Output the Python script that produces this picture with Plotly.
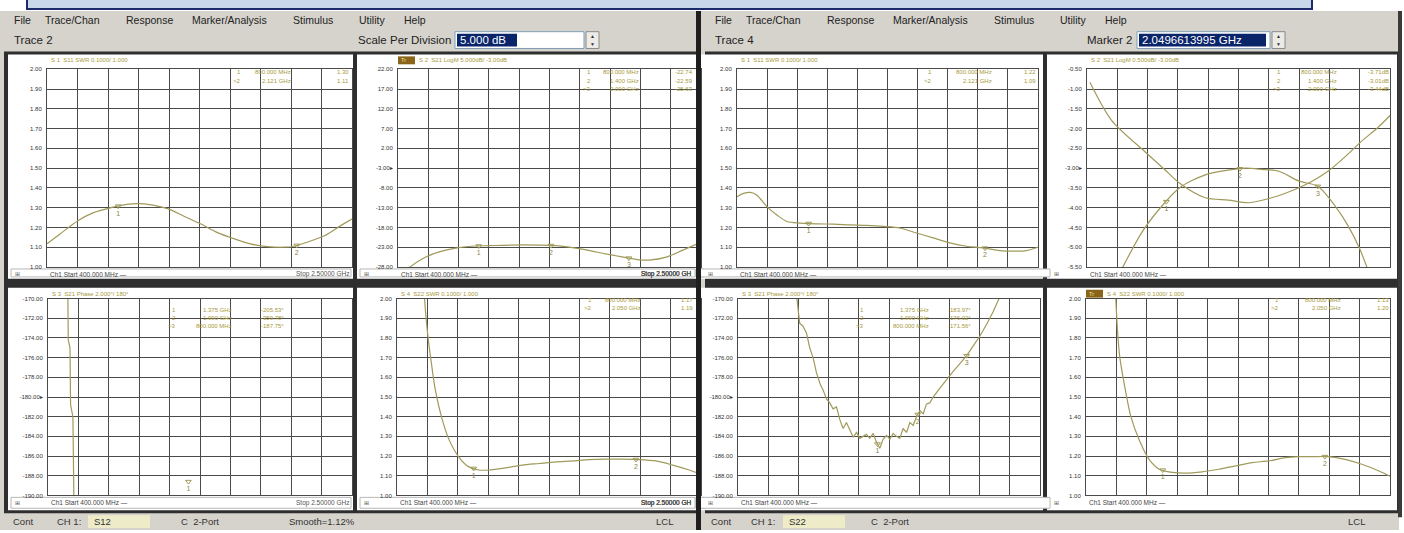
import numpy as np
import plotly.graph_objects as go

W, H = 1404, 533

# ---------------- data (GHz / trace units) ----------------
# Left analyzer window
f_l_s11 = [0.40, 0.49, 0.61, 0.72, 0.84, 0.95, 1.04, 1.13, 1.23, 1.34, 1.46, 1.57, 1.69, 1.80, 1.92, 2.03, 2.10, 2.19, 2.31, 2.42, 2.50]
swr_l_s11 = [1.117, 1.167, 1.233, 1.275, 1.300, 1.317, 1.320, 1.313, 1.295, 1.258, 1.217, 1.175, 1.142, 1.117, 1.103, 1.100, 1.105, 1.125, 1.158, 1.208, 1.242]

f_l_s21 = [0.40, 0.47, 0.57, 0.68, 0.80, 0.91, 1.03, 1.26, 1.49, 1.61, 1.72, 1.84, 1.96, 2.07, 2.14, 2.26, 2.37, 2.50]
db_l_s21 = [-31.0, -28.4, -25.9, -24.25, -23.25, -22.75, -22.6, -22.4, -22.6, -23.1, -23.8, -24.7, -25.5, -26.2, -26.25, -25.5, -23.8, -21.75]

f_l_ph = [0.536, 0.540, 0.552, 0.556, 0.572, 0.580]
ph_l = [-168.0, -174.2, -175.0, -180.8, -182.0, -192.0]

f_l_s22 = [0.585, 0.601, 0.615, 0.638, 0.665, 0.712, 0.758, 0.827, 0.896, 0.965, 1.035, 1.15, 1.265, 1.381, 1.496, 1.612, 1.727, 1.842, 1.958, 2.073, 2.188, 2.304, 2.419, 2.5]
swr_l_s22 = [2.05, 1.90, 1.80, 1.67, 1.535, 1.386, 1.286, 1.195, 1.145, 1.129, 1.129, 1.14, 1.154, 1.162, 1.17, 1.175, 1.182, 1.184, 1.184, 1.182, 1.175, 1.154, 1.129, 1.107]

# Right analyzer window
f_r_s11 = [0.40, 0.446, 0.493, 0.539, 0.609, 0.678, 0.748, 0.841, 0.957, 1.073, 1.189, 1.305, 1.421, 1.537, 1.653, 1.769, 1.885, 2.001, 2.117, 2.233, 2.349, 2.419, 2.50]
swr_r_s11 = [1.355, 1.372, 1.377, 1.363, 1.305, 1.263, 1.23, 1.222, 1.218, 1.217, 1.213, 1.21, 1.205, 1.197, 1.172, 1.147, 1.122, 1.105, 1.097, 1.083, 1.08, 1.083, 1.10]

f_r_a = [0.42, 0.57, 0.80, 0.94, 1.04, 1.22, 1.38, 1.52, 1.68, 1.84, 1.96, 2.07, 2.19, 2.30, 2.42, 2.50]
db_r_a = [-0.83, -1.79, -2.58, -3.04, -3.375, -3.75, -3.81, -3.875, -3.75, -3.54, -3.33, -3.08, -2.71, -2.33, -1.96, -1.67]
f_r_b = [0.62, 0.78, 0.90, 1.04, 1.22, 1.40, 1.50, 1.61, 1.73, 1.87, 2.00, 2.12, 2.21, 2.29, 2.36]
db_r_b = [-5.70, -4.625, -4.04, -3.5, -3.17, -3.04, -3.0, -3.03, -3.08, -3.33, -3.46, -3.96, -4.46, -5.04, -5.70]

f_r_ph = [0.800, 0.806, 0.829, 0.852, 0.876, 0.899, 0.922, 0.945, 0.969, 0.992, 1.015, 1.038, 1.061, 1.085, 1.108,
          1.131, 1.154, 1.178, 1.201, 1.224, 1.247, 1.270, 1.293, 1.316, 1.340, 1.363, 1.386, 1.409, 1.433, 1.456,
          1.479, 1.502, 1.525, 1.548, 1.572, 1.595, 1.618, 1.641, 1.665, 1.688, 1.711, 1.734, 1.757, 1.804, 1.850,
          1.896, 1.943, 1.990, 2.036, 2.082, 2.129, 2.175, 2.221, 2.240]
ph_r = [-168.0, -169.5, -172.5, -172.8, -173.5, -175.0, -176.0, -177.5, -178.6, -179.3, -180.2, -180.6, -181.2, -181.0, -182.3,
        -183.2, -182.6, -183.4, -184.1, -183.6, -184.2, -184.0, -183.8, -184.2, -183.7, -184.6, -185.2, -184.3, -183.9, -184.3,
        -183.7, -184.0, -184.2, -183.2, -183.6, -182.6, -182.9, -182.0, -181.4, -181.7, -180.7, -180.6, -180.0, -179.1, -178.2,
        -177.4, -176.6, -175.8, -174.8, -173.8, -172.6, -171.3, -169.8, -169.0]

f_r_s22 = [0.60, 0.618, 0.634, 0.664, 0.71, 0.767, 0.836, 0.905, 0.997, 1.089, 1.203, 1.318, 1.433, 1.548, 1.662, 1.777, 1.869, 1.961, 2.075, 2.19, 2.305, 2.42, 2.5]
swr_r_s22 = [2.10, 1.833, 1.70, 1.567, 1.40, 1.283, 1.183, 1.133, 1.117, 1.113, 1.12, 1.133, 1.15, 1.167, 1.175, 1.192, 1.197, 1.197, 1.197, 1.183, 1.158, 1.125, 1.097]

# marker frequencies (GHz) per panel
mk_p1 = [0.89, 2.12]
mk_p2 = [0.96, 1.46, 2.00]
mk_p3 = [1.37]
mk_p3_val = [-188.6]   # marker shown pinned at the bottom edge of the phase grid
mk_p4 = [0.93, 2.05]
mk_p5 = [0.90, 2.13]
mk_p6 = [0.95, 1.46, 2.00]
mk_p7 = [1.37, 1.65, 1.99]
mk_p8 = [0.93, 2.05]

# y-axis labels
swr_ticks = [1.0, 1.1, 1.2, 1.3, 1.4, 1.5, 1.6, 1.7, 1.8, 1.9, 2.0]
s21_left_ticks = [-28, -23, -18, -13, -8, -3, 2, 7, 12, 17, 22]
phase_ticks = [-190, -188, -186, -184, -182, -180, -178, -176, -174, -172, -170]
s21_right_ticks = [-5.5, -5.0, -4.5, -4.0, -3.5, -3.0, -2.5, -2.0, -1.5, -1.0, -0.5]

menu_items = ["File", "Trace/Chan", "Response", "Marker/Analysis", "Stimulus", "Utility", "Help"]

# ---------------- helpers ----------------
TRACE = "#a09a5a"
GRID = "#4a4a4a"
OLIVE = "#a8993c"
GRAYBG = "#d6d3cc"
DARK = "#2e2e2e"
FONT = "Liberation Sans"


def X(px):
    return px / W


def Y(py):
    return 1 - py / H


shapes = []
annots = []


def R(x0, y0, x1, y1, fill, line=None, lw=1, layer="below"):
    shapes.append(dict(type="rect", xref="paper", yref="paper", x0=X(x0), x1=X(x1), y0=Y(y1), y1=Y(y0),
                       fillcolor=fill, line=dict(color=line or "rgba(0,0,0,0)", width=lw if line else 0), layer=layer))


def T(x, y, text, size=10, color="#222", anchor="left", family=FONT):
    annots.append(dict(xref="paper", yref="paper", x=X(x), y=Y(y), text=text, showarrow=False,
                       xanchor=anchor, yanchor="middle", font=dict(size=size, color=color, family=family),
                       borderpad=0))


# ---------------- window chrome ----------------
R(27, -4, 1312, 6, "#c9d7ea", "#1b2a6b", 2)
for wx0, wx1 in [(0, 697), (701, 1399)]:
    R(wx0, 8, wx1, 533, GRAYBG)
    R(wx0 + 4, 49, wx1, 516, DARK)
R(696, 8, 701, 533, "#1e1e1e", layer="above")
R(1398, 8, 1402, 520, "#3a3a3a")

# menu bars
menu_x = [13, 44, 125, 191, 292, 358, 403]
for off in (0, 701):
    for mx, m in zip(menu_x, menu_items):
        T(off + mx, 17, m, 10.5)

T(13, 37, "Trace 2", 11.5)
T(452, 37, "Scale Per Division", 11.5, anchor="right")
R(455, 29, 584, 46, "#ffffff", "#7f9db9")
R(457, 31, 517, 44, "#0a246a")
T(459, 37.5, "5.000 dB", 11.5, "#ffffff")
R(586, 29, 599, 46, "#ecebe6", "#8a8a8a")
T(592.5, 33.5, "▲", 5, "#333", "center")
T(592.5, 41.5, "▼", 5, "#333", "center")

T(714, 37, "Trace 4", 11.5)
T(1133, 37, "Marker 2", 11.5, anchor="right")
R(1137, 29, 1270, 46, "#ffffff", "#7f9db9")
R(1139, 31, 1266, 44, "#0a246a")
T(1141, 37.5, "2.0496613995 GHz", 11.5, "#ffffff")
R(1272, 29, 1285, 46, "#ecebe6", "#8a8a8a")
T(1278.5, 33.5, "▲", 5, "#333", "center")
T(1278.5, 41.5, "▼", 5, "#333", "center")

# status bars
T(12, 524.5, "Cont", 9.5, "#333")
T(56, 524.5, "CH 1:", 9.5, "#333")
R(88, 518, 150, 531, "#eeebc8")
T(93, 524.5, "S12", 9.5, "#333")
T(180, 524.5, "C  2-Port", 9.5, "#333")
T(288, 524.5, "Smooth=1.12%", 9.5, "#333")
T(655, 524.5, "LCL", 9.5, "#333")
T(710, 524.5, "Cont", 9.5, "#333")
T(750, 524.5, "CH 1:", 9.5, "#333")
R(783, 518, 845, 531, "#eeebc8")
T(788, 524.5, "S22", 9.5, "#333")
T(870, 524.5, "C  2-Port", 9.5, "#333")
T(1347, 524.5, "LCL", 9.5, "#333")

# ---------------- panels ----------------
panels = [
    dict(white=(8, 52, 353, 279), grid=(47, 67, 352, 267), rng=(1.0, 2.0), ticks=swr_ticks, ref=None,
         title="S 1  S11 SWR 0.1000/ 1.000", act=False,
         series=[(f_l_s11, swr_l_s11)], mk=mk_p1,
         table=[("1", "800.000 MHz", "1.30"), (">2", "2.121 GHz", "1.11")], tx=(242, 292, 350), ty=70),
    dict(white=(357, 52, 697, 279), grid=(398, 67, 701, 267), rng=(-28, 22), ticks=s21_left_ticks, ref=-3,
         title="S 2  S21 LogM 5.000dB/ -3.00dB", act=True,
         series=[(f_l_s21, db_l_s21)], mk=mk_p2,
         table=[("1", "800.000 MHz", "-22.74"), ("2", "1.400 GHz", "-22.59"), (">3", "2.000 GHz", "-25.63")],
         tx=(592, 640, 694), ty=70),
    dict(white=(8, 288, 353, 513), grid=(48, 299, 352, 498), rng=(-190, -170), ticks=phase_ticks, ref=-180,
         title="S 3  S21 Phase 2.000°/ 180°", act=False,
         series=[(f_l_ph, ph_l)], mk=mk_p3, mk_y=mk_p3_val,
         table=[("1", "1.375 GHz", "-205.53°"), ("2", "1.990 GHz", "-359.78°"), (">3", "800.000 MHz", "-187.75°")],
         tx=(177, 233, 285), ty=310),
    dict(white=(357, 288, 697, 513), grid=(397, 299, 701, 498), rng=(1.0, 2.0), ticks=swr_ticks, ref=None,
         title="S 4  S22 SWR 0.1000/ 1.000", act=False,
         series=[(f_l_s22, swr_l_s22)], mk=mk_p4,
         table=[("1", "800.000 MHz", "1.17"), (">2", "2.050 GHz", "1.19")], tx=(593, 642, 694), ty=300),
    dict(white=(701, 52, 1043, 279), grid=(737, 67, 1038, 267), rng=(1.0, 2.0), ticks=swr_ticks, ref=None,
         title="S 1  S11 SWR 0.1000/ 1.000", act=False,
         series=[(f_r_s11, swr_r_s11)], mk=mk_p5,
         table=[("1", "800.000 MHz", "1.22"), (">2", "2.121 GHz", "1.09")], tx=(933, 993, 1037), ty=70),
    dict(white=(1047, 52, 1397, 279), grid=(1087, 67, 1390, 267), rng=(-5.5, -0.5), ticks=s21_right_ticks, ref=-3.0,
         title="S 2  S21 LogM 0.500dB/ -3.00dB", act=False,
         series=[(f_r_a, db_r_a), (f_r_b, db_r_b)], mk=mk_p6, mk_series=1,
         table=[("1", "800.000 MHz", "-3.71dB"), ("2", "1.400 GHz", "-3.01dB"), (">3", "2.000 GHz", "-3.44dB")],
         tx=(1282, 1338, 1390), ty=70),
    dict(white=(701, 288, 1043, 513), grid=(738, 299, 1040, 498), rng=(-190, -170), ticks=phase_ticks, ref=-180,
         title="S 3  S21 Phase 2.000°/ 180°", act=False,
         series=[(f_r_ph, ph_r)], mk=mk_p7,
         table=[("1", "1.375 GHz", "-183.97°"), ("2", "1.990 GHz", "-176.02°"), (">3", "800.000 MHz", "-171.56°")],
         tx=(865, 930, 972), ty=310),
    dict(white=(1047, 288, 1397, 513), grid=(1086, 299, 1390, 498), rng=(1.0, 2.0), ticks=swr_ticks, ref=None,
         title="S 4  S22 SWR 0.1000/ 1.000", act=True,
         series=[(f_r_s22, swr_r_s22)], mk=mk_p8,
         table=[("1", "800.000 MHz", "1.13"), (">2", "2.050 GHz", "1.20")], tx=(1280, 1342, 1390), ty=300),
]

fig = go.Figure()
layout = {}
for i, p in enumerate(panels, start=1):
    wx0, wy0, wx1, wy1 = p["white"]
    gx0, gy0, gx1, gy1 = p["grid"]
    R(wx0, wy0, wx1, wy1, "#ffffff")
    # bottom stimulus row
    R(wx0 + 3, gy1 + 2, min(wx1 - 2, 696), wy1 - 2, "#ffffff", "#b8b8b8")
    T(wx0 + 6, gy1 + 7.5, "⊞", 6, "#555")
    T(gx0 + 2, gy1 + 7.5, "Ch1 Start 400.000 MHz —", 6.5, "#444")
    clipped = gx1 >= 697
    T(693 if clipped else gx1 - 2, gy1 + 7.5, "Stop 2.50000 GH" if clipped else "Stop 2.50000 GHz", 6.5, "#555",
      anchor="right")
    # title
    if p["act"]:
        R(gx0, wy0 + 2, gx0 + 17, wy0 + 10, "#8a6418")
        T(gx0 + 2, wy0 + 6, "Tr", 5.5, "#f0e0a0")
    T(gx0 + 20 if p["act"] else gx0 + 3, wy0 + 6, p["title"], 6, OLIVE)
    # marker table
    nx, fx, vx = p["tx"]
    for r, (n, fq, val) in enumerate(p["table"]):
        yy = p["ty"] + r * 8.5
        T(nx, yy, n, 6, OLIVE, "right")
        T(fx, yy, fq, 6, OLIVE, "right")
        T(vx, yy, val, 6, OLIVE, "right")

    xs = "" if i == 1 else str(i)
    lo, hi = p["rng"]
    labels = []
    for t in p["ticks"]:
        s = "{:.2f}".format(t)
        if p["ref"] is not None and abs(t - p["ref"]) < 1e-9:
            s += "▸"
        labels.append(s)
    layout["xaxis" + xs] = dict(domain=[X(gx0), X(gx1)], range=[0.4, 2.5], tick0=0.4, dtick=0.21,
                                showticklabels=False, ticks="", showgrid=True, gridcolor=GRID, gridwidth=1,
                                zeroline=False, showline=True, linecolor=GRID, linewidth=1, mirror=True,
                                anchor="y" + xs, fixedrange=True)
    layout["yaxis" + xs] = dict(domain=[Y(gy1), Y(gy0)], range=[lo, hi], tickvals=p["ticks"], ticktext=labels,
                                tickfont=dict(size=6, color="#333", family=FONT), ticks="",
                                showgrid=True, gridcolor=GRID, gridwidth=1, zeroline=False,
                                showline=True, linecolor=GRID, linewidth=1, mirror=True,
                                anchor="x" + xs, fixedrange=True, ticklabelstandoff=3)
    for k, (fs, vs) in enumerate(p["series"]):
        smooth = "spline" if len(fs) < 30 and i != 3 else "linear"
        fig.add_trace(go.Scatter(x=fs, y=vs, mode="lines", xaxis="x" + xs, yaxis="y" + xs,
                                 line=dict(color=TRACE, width=1.2, shape=smooth, smoothing=0.8),
                                 hoverinfo="skip", showlegend=False))
    ms = p.get("mk_series", 0)
    fs, vs = p["series"][ms]
    mky = p["mk_y"] if "mk_y" in p else np.interp(p["mk"], fs, vs)
    fig.add_trace(go.Scatter(x=p["mk"], y=mky, mode="markers+text", xaxis="x" + xs, yaxis="y" + xs,
                             marker=dict(symbol="triangle-down-open", size=5, color=TRACE),
                             text=[str(j + 1) for j in range(len(p["mk"]))], textposition="bottom center",
                             textfont=dict(size=7, color="#8a8446", family=FONT),
                             hoverinfo="skip", showlegend=False, cliponaxis=True))

fig.update_layout(width=W, height=H, margin=dict(l=0, r=0, t=0, b=0),
                  paper_bgcolor="#ffffff", plot_bgcolor="rgba(0,0,0,0)",
                  font=dict(family=FONT, size=10, color="#222"),
                  shapes=shapes, annotations=annots, showlegend=False, **layout)
fig.write_html("out.html", config={"displayModeBar": False, "staticPlot": True},
               post_script="document.body.style.margin='0px';document.body.style.overflow='hidden';")
